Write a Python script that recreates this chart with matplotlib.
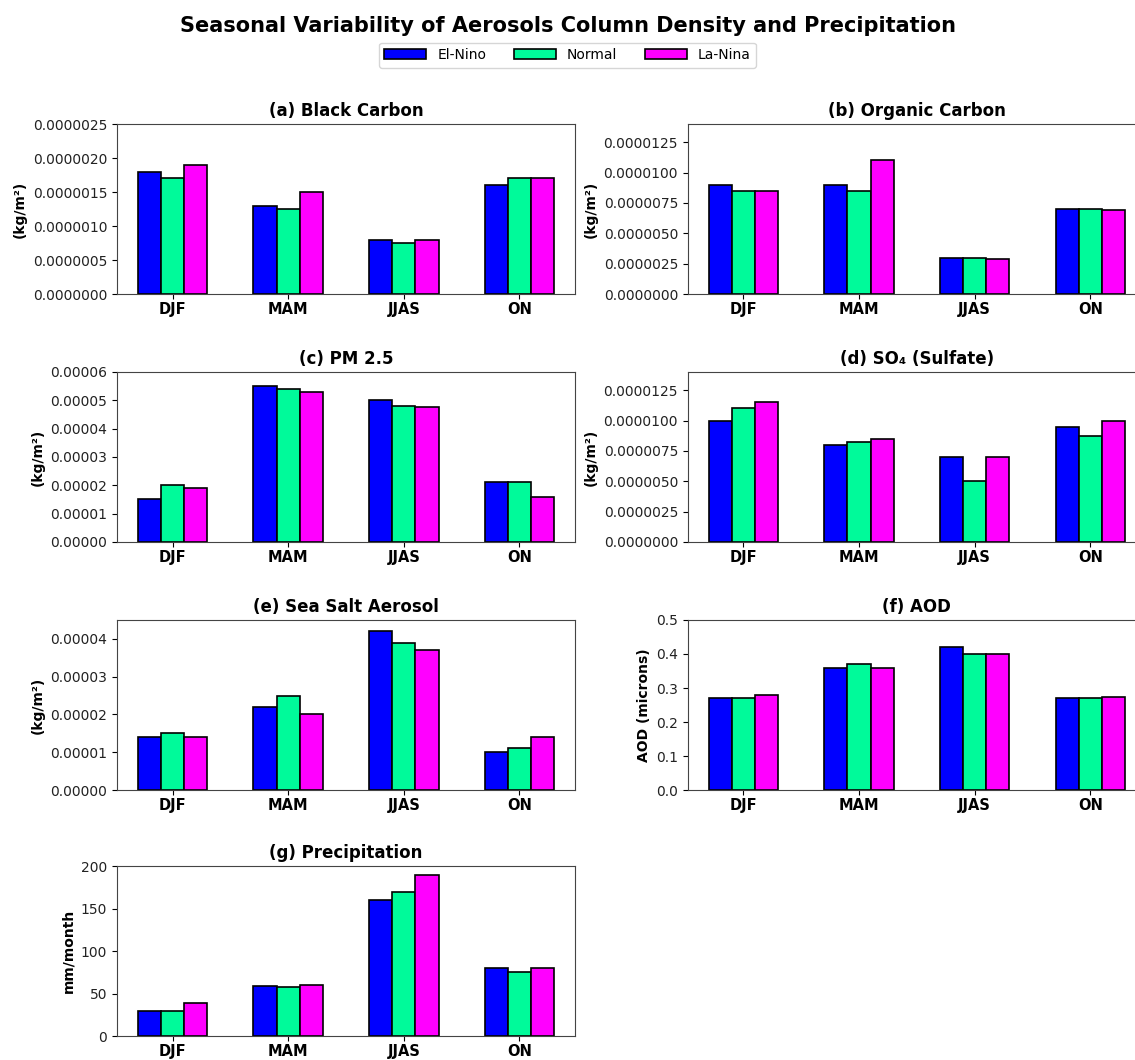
import numpy as np
import matplotlib
matplotlib.use('Agg')
import matplotlib.pyplot as plt
from matplotlib.ticker import FormatStrFormatter

seasons = ['DJF', 'MAM', 'JJAS', 'ON']
phases = ['El-Nino', 'Normal', 'La-Nina']
colors = ['#0000ff', '#00fa9a', '#ff00ff']

# values per season: (El-Nino, Normal, La-Nina)
black_carbon = [[1.8e-6, 1.7e-6, 1.9e-6], [1.3e-6, 1.25e-6, 1.5e-6],
                [0.8e-6, 0.75e-6, 0.8e-6], [1.6e-6, 1.7e-6, 1.7e-6]]
organic_carbon = [[9.0e-6, 8.5e-6, 8.5e-6], [9.0e-6, 8.5e-6, 11.0e-6],
                  [3.0e-6, 3.0e-6, 2.9e-6], [7.0e-6, 7.0e-6, 6.9e-6]]
pm25 = [[1.5e-5, 2.0e-5, 1.9e-5], [5.5e-5, 5.4e-5, 5.3e-5],
        [5.0e-5, 4.8e-5, 4.75e-5], [2.1e-5, 2.1e-5, 1.6e-5]]
sulfate = [[10.0e-6, 11.0e-6, 11.5e-6], [8.0e-6, 8.2e-6, 8.5e-6],
           [7.0e-6, 5.0e-6, 7.0e-6], [9.5e-6, 8.7e-6, 10.0e-6]]
sea_salt = [[1.4e-5, 1.5e-5, 1.4e-5], [2.2e-5, 2.5e-5, 2.0e-5],
            [4.2e-5, 3.9e-5, 3.7e-5], [1.0e-5, 1.1e-5, 1.4e-5]]
aod = [[0.27, 0.27, 0.28], [0.36, 0.37, 0.36],
       [0.42, 0.40, 0.40], [0.27, 0.27, 0.275]]
precip = [[30, 30, 39], [59, 58, 60],
          [160, 170, 190], [80, 75, 80]]

panels = [
    ('(a) Black Carbon', black_carbon, '(kg/m²)', (0, 2.5e-6), 5e-7, '%.7f'),
    ('(b) Organic Carbon', organic_carbon, '(kg/m²)', (0, 1.4e-5), 2.5e-6, '%.7f'),
    ('(c) PM 2.5', pm25, '(kg/m²)', (0, 6e-5), 1e-5, '%.5f'),
    ('(d) SO₄ (Sulfate)', sulfate, '(kg/m²)', (0, 1.4e-5), 2.5e-6, '%.7f'),
    ('(e) Sea Salt Aerosol', sea_salt, '(kg/m²)', (0, 4.5e-5), 1e-5, '%.5f'),
    ('(f) AOD', aod, 'AOD (microns)', (0, 0.5), 0.1, '%.1f'),
    ('(g) Precipitation', precip, 'mm/month', (0, 200), 50, '%d'),
]

fig = plt.figure(figsize=(11.35, 10.6), dpi=100)

# axes boxes in figure fractions
lefts = [0.1031, 0.606]
bottoms = [0.7226, 0.4887, 0.2547, 0.0226]
w, h = 0.4035, 0.1604

x = np.arange(len(seasons))
bw = 0.2
handles = []
for i, (title, vals, ylabel, ylim, step, fmt) in enumerate(panels):
    ax = fig.add_axes([lefts[i % 2], bottoms[i // 2], w, h])
    vals = np.array(vals)
    for j in range(3):
        b = ax.bar(x + (j - 1) * bw, vals[:, j], bw, color=colors[j],
                   edgecolor='black', linewidth=1.2, label=phases[j])
        if i == 0:
            handles.append(b)
    ax.set_title(title, fontsize=12, fontweight='bold')
    ax.set_ylabel(ylabel, fontsize=10, fontweight='bold')
    ax.set_ylim(*ylim)
    ax.set_yticks(np.arange(0, ylim[1] + step * 0.01, step))
    ax.yaxis.set_major_formatter(FormatStrFormatter(fmt))
    ax.set_xticks(x)
    ax.set_xticklabels(seasons, fontsize=10.5, fontweight='bold')
    ax.tick_params(axis='x', pad=2)
    ax.tick_params(axis='y', labelsize=10, labelcolor='#222222')
    for s in ax.spines.values():
        s.set_color('#444444')

fig.text(0.5, 0.975, 'Seasonal Variability of Aerosols Column Density and Precipitation',
         ha='center', va='center', fontsize=15, fontweight='bold')
fig.legend(handles, phases, loc='center', bbox_to_anchor=(0.5, 0.948), ncol=3,
           fontsize=10, handlelength=3, columnspacing=2.0)

fig.savefig('out.png', dpi=100)
